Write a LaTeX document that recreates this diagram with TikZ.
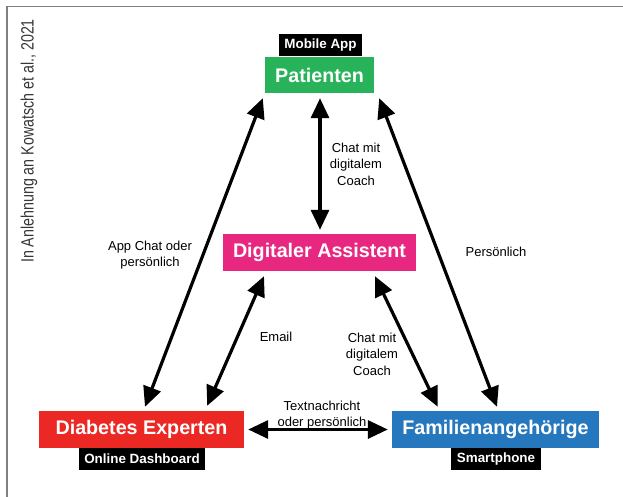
\documentclass[tikz,border=0pt]{standalone}
\usepackage{fontspec}
\setmainfont{Liberation Sans}
\newfontfamily\condfont[FakeStretch=0.8]{Liberation Sans}
\usetikzlibrary{arrows.meta}
\definecolor{cgreen}{RGB}{40,178,90}
\definecolor{cpink}{RGB}{232,40,128}
\definecolor{cred}{RGB}{236,40,36}
\definecolor{cblue}{RGB}{38,120,190}
\definecolor{cframe}{RGB}{128,128,128}
\definecolor{ctext}{RGB}{55,55,55}
\begin{document}
\begin{tikzpicture}[x=1pt,y=-1pt,
  box/.style={text=white, font=\bfseries\fontsize{19.7}{22}\selectfont, inner sep=0pt, minimum height=37pt},
  tag/.style={fill=black, text=white, font=\bfseries\fontsize{13.4}{15}\selectfont, inner sep=0pt, minimum height=22pt},
  lab/.style={align=center, font=\fontsize{13}{16.5}\selectfont, inner sep=0pt, text=black},
  arr/.style={line width=3.2pt, {Triangle[width=18pt,length=20pt]}-{Triangle[width=18pt,length=20pt]}}
]
\useasboundingbox (0,0) rectangle (623,497);
\fill[white] (0,0) rectangle (623,497);
% frame
\draw[cframe, line width=1.5pt] (7,497) -- (7,6.5) -- (623,6.5);
% source note
\node[rotate=90, text=ctext, font=\condfont\fontsize{17.8}{20}\selectfont, inner sep=0pt] (src) at (29,141) {In Anlehnung an Kowatsch et al., 2021};
% tags
\node[tag, minimum width=83pt] (tmob) at (320.5,45) {Mobile App};
\node[tag, minimum width=126pt] (tdash) at (142,459) {Online Dashboard};
\node[tag, minimum width=90pt] (tsmart) at (496,459) {Smartphone};
% boxes
\node[box, fill=cgreen, minimum width=109pt, minimum height=36pt] (pat) at (319.5,75) {Patienten};
\node[box, fill=cpink, minimum width=193pt] (ast) at (319.5,252.5) {Digitaler Assistent};
\node[box, fill=cred, minimum width=205pt] (dia) at (141.5,429.5) {Diabetes Experten};
\node[box, fill=cblue, minimum width=207pt] (fam) at (495.5,429.5) {Familienangehörige};
% arrows
\draw[arr] ([shift={(-2,5)}]pat.south west) -- ([shift={(3.5,-4)}]dia.north);
\draw[arr] ([shift={(5,5)}]pat.south east) -- ([shift={(1.5,-4)}]fam.north);
\draw[arr] ([shift={(0.5,5)}]pat.south) -- ([shift={(0.5,-4)}]ast.north);
\draw[arr] ([shift={(-55.5,5)}]ast.south) -- ([shift={(-37,-5)}]dia.north east);
\draw[arr] ([shift={(55.5,5)}]ast.south) -- ([shift={(46,-4)}]fam.north west);
\draw[arr] ([shift={(4,0)}]dia.east) -- ([shift={(-4,0)}]fam.west);
% labels
\node[lab] (l1) at (356,164) {Chat mit\\digitalem\\Coach};
\node[lab] (l2) at (150,255) {App Chat oder\\persönlich};
\node[lab] (l3) at (496,252) {Persönlich};
\node[lab] (l4) at (276,337) {Email};
\node[lab] (l5) at (372,354) {Chat mit\\digitalem\\Coach};
\node[lab] (l6) at (322,415) {Textnachricht\\oder persönlich};
\end{tikzpicture}
\end{document}
